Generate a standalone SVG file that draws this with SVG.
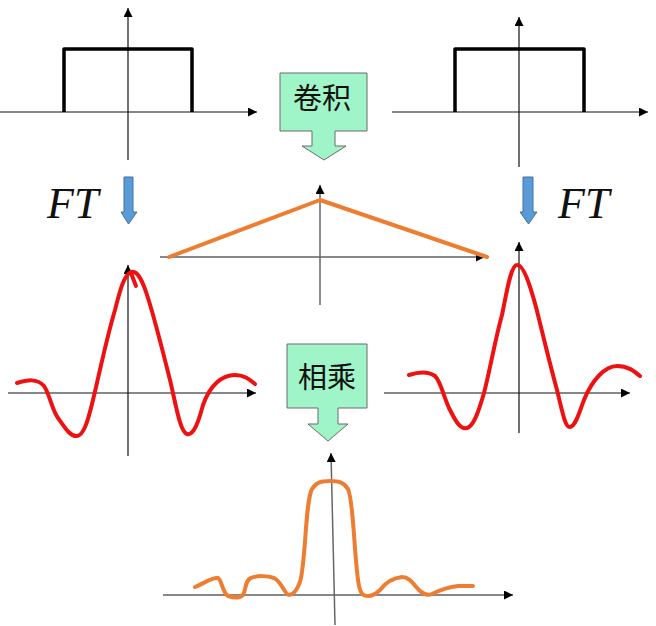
<svg xmlns="http://www.w3.org/2000/svg" width="656" height="626" viewBox="0 0 656 626">
<defs>
<marker id="ah" markerUnits="userSpaceOnUse" markerWidth="10" markerHeight="9" refX="9" refY="4.5" orient="auto">
<path d="M0,0 L9,4.5 L0,9 Z" fill="#000"/>
</marker>
<style>
.axis{stroke:#111;stroke-width:1.2;fill:none;marker-end:url(#ah)}
.axisg{stroke:#666;stroke-width:1.5;fill:none;marker-end:url(#ah)}
.rect{stroke:#000;stroke-width:3.5;fill:none;stroke-linejoin:round}
.red{stroke:#ee1111;stroke-width:4;fill:none;stroke-linecap:round;stroke-linejoin:round}
.orange{stroke:#ed7d31;stroke-width:4;fill:none;stroke-linecap:round;stroke-linejoin:round}
.callout{fill:#9ff5c8;stroke:#6b6b6b;stroke-width:1}
.cjk{font-family:"Noto Sans CJK SC","Noto Sans CJK JP",sans-serif;font-size:29px;fill:#111;text-anchor:middle}
.ft{font-family:"Liberation Serif","DejaVu Serif",serif;font-style:italic;font-size:44px;fill:#111}
.blue{fill:#5b9bd5;stroke:#41719c;stroke-width:1}
</style>
</defs>
<rect width="656" height="626" fill="#fff"/>

<g id="rect-left">
<line class="axis" x1="0" y1="112" x2="257" y2="112"/>
<line class="axis" x1="128" y1="160" x2="128" y2="8"/>
<path class="rect" d="M64,112 V49 H192 V112"/>
</g>

<g id="rect-right">
<line class="axis" x1="392" y1="112" x2="648" y2="112"/>
<line class="axis" x1="519" y1="167" x2="519" y2="17"/>
<path class="rect" d="M455,112 V49 H584 V112"/>
</g>

<g id="conv-callout">
<path class="callout" d="M280,73 H367 V131 H335 V146 H346 L324,160 L302,146 H312 V131 H280 Z"/>
<text class="cjk" x="322" y="109">卷积</text>
</g>

<g id="triangle">
<line class="axis" x1="160" y1="257" x2="485" y2="257"/>
<line class="axisg" x1="320" y1="305" x2="320" y2="185"/>
<path class="orange" d="M169,257 L320,200 L487,257"/>
</g>

<g id="ft-left">
<text class="ft" x="47" y="218">FT</text>
</g>
<g id="ft-right">
<text class="ft" x="558" y="218">FT</text>
</g>

<g id="sinc-left">
<line class="axis" x1="8" y1="393" x2="256" y2="393"/>
<line class="axis" x1="128" y1="456" x2="128" y2="265"/>
<path class="red" d="M17,383 C27,380 37,378 44,386 C50,395 52,410 58,418 C64,426 70,437 77,436 C84,435 88,420 92,404 C98,380 106,340 115,310 C120,290 124,275 131,272 C138,270 143,282 148,298 C155,320 163,352 170,380 C176,405 180,432 187,434 C194,436 199,420 203,405 C210,385 222,375 235,375 C245,375 250,380 255,384"/>
<path class="red" d="M131,273 L136,286"/>
</g>

<g id="sinc-right">
<line class="axis" x1="384" y1="393" x2="630" y2="393"/>
<line class="axis" x1="519" y1="433" x2="519" y2="242"/>
<path class="red" d="M409,375 C418,372 428,371 435,376 C441,382 443,395 449,408 C455,420 460,430 467,428 C474,426 479,410 484,393 C490,370 495,340 502,315 C507,290 511,265 517,265 C523,264 530,285 536,307 C543,335 550,365 557,390 C562,410 565,428 570,427 C576,426 580,410 584,400 C592,380 605,366 617,366 C628,366 634,371 640,376"/>
</g>

<g id="mult-callout">
<path class="callout" d="M287,344 H367 V408 H338 V424 H348 L328,441 L308,424 H318 V408 H287 Z"/>
<text class="cjk" x="327" y="388">相乘</text>
</g>

<g id="product">
<line class="axis" x1="163" y1="595" x2="513" y2="595"/>
<line class="axisg" x1="335" y1="625" x2="331" y2="453"/>
<path class="orange" d="M195,587 C205,583 212,577 218,578 C222,580 222,592 228,596 C234,598 240,598 243,595 C246,590 245,580 251,578 C258,575 268,576 274,578 C282,582 285,595 289,595 C294,595 297,590 300,582 C306,562 305,502 312,489 C316,482 322,481 330,481 C338,481 344,482 348,489 C354,502 354,560 359,586 C361,594 363,596 368,596 C373,596 376,594 380,590 C386,582 392,578 402,577 C410,577 414,585 419,590 C423,594 427,596 432,594 C440,590 448,587 458,586 L473,586"/>
</g>

<g id="connectors">
<path class="blue" d="M124,177 H133 V212 H137 L128.5,224 L121,212 H124 Z"/>
<path class="blue" d="M523,177 H533 V212 H537 L528.5,224 L520,212 H523 Z"/>
</g>
</svg>
